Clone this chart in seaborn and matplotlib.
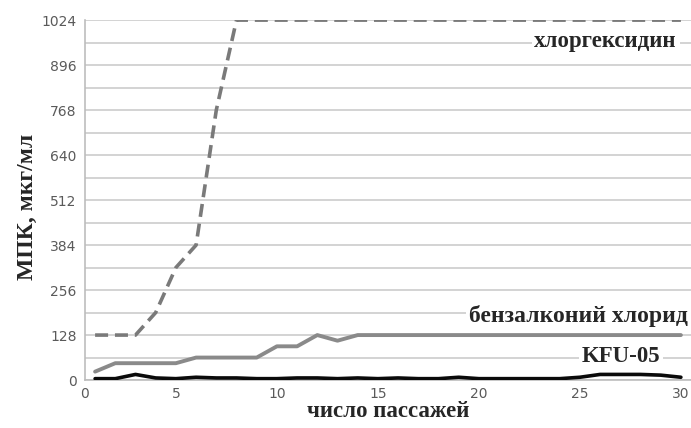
import matplotlib
matplotlib.use("Agg")
import matplotlib.pyplot as plt
import seaborn as sns
import pandas as pd

passages = list(range(1, 31))
chlorhexidine = [128, 128, 128, 192, 320, 384, 768, 1024, 1024, 1024,
                 1024, 1024, 1024, 1024, 1024, 1024, 1024, 1024, 1024, 1024,
                 1024, 1024, 1024, 1024, 1024, 1024, 1024, 1024, 1024, 1024]
benzalkonium = [24, 48, 48, 48, 48, 64, 64, 64, 64, 96,
                96, 128, 112, 128, 128, 128, 128, 128, 128, 128,
                128, 128, 128, 128, 128, 128, 128, 128, 128, 128]
kfu05 = [4, 4, 16, 6, 4, 8, 6, 6, 4, 4,
         6, 6, 4, 6, 4, 6, 4, 4, 8, 4,
         4, 4, 4, 4, 8, 16, 16, 16, 14, 8]
y_ticks = [0, 128, 256, 384, 512, 640, 768, 896, 1024]
x_tick_labels = ["0", "5", "10", "15", "20", "25", "30"]

sns.set_style("white")
fig = plt.figure(figsize=(6.91, 4.28), dpi=100)
ax = fig.add_axes([0.123, 0.112, 0.877, 0.841])

df = pd.DataFrame({"x": passages, "chl": chlorhexidine, "benz": benzalkonium, "kfu": kfu05})

# grid
for v in range(0, 1025, 64):
    ax.axhline(v, color="#c8c8c8", lw=1.1, zorder=0)

sns.lineplot(data=df, x="x", y="benz", ax=ax, color="#8a8a8a", lw=2.8, zorder=3)
sns.lineplot(data=df, x="x", y="kfu", ax=ax, color="#0a0a0a", lw=2.6, zorder=4)
sns.lineplot(data=df, x="x", y="chl", ax=ax, color="#7a7a7a", lw=2.6, zorder=3)
ax.lines[-1].set_dashes([3.6, 1.9])

ax.set_xlim(0.5, 30.5)
ax.set_ylim(0, 1024)
ax.set_yticks(y_ticks)
ax.set_yticklabels([str(v) for v in y_ticks])
ax.set_xticks([0.5, 5, 10, 15, 20, 25, 30])
ax.set_xticklabels(x_tick_labels)
ax.set_xticks([i + 0.5 for i in range(1, 30)], minor=True)
ax.tick_params(axis="x", which="both", length=5, color="#bdbdbd", width=1.2,
               direction="out", labelsize=10, labelcolor="#5a5a5a", pad=5)
ax.tick_params(axis="x", which="major", length=0)
ax.tick_params(axis="y", length=0, labelsize=10, labelcolor="#5a5a5a", pad=6)

for s in ["top", "right"]:
    ax.spines[s].set_visible(False)
ax.spines["left"].set_color("#bdbdbd")
ax.spines["left"].set_linewidth(1.2)
ax.spines["bottom"].set_color("#bdbdbd")
ax.spines["bottom"].set_linewidth(1.2)
ax.spines["bottom"].set_zorder(1)

serif = ["Liberation Serif", "DejaVu Serif"]
ax.set_xlabel("число пассажей", family=serif, fontweight="bold", fontsize=16.5, labelpad=0)
ax.set_ylabel("МПК, мкг/мл", family=serif, fontweight="bold", fontsize=17)
ax.yaxis.set_label_coords(-0.078, 0.48)

bbox = dict(facecolor="white", edgecolor="none", pad=2)
ax.text(29.8, 962, "хлоргексидин", family=serif, fontweight="bold", fontsize=16.5,
        ha="right", va="center", bbox=bbox, zorder=5)
ax.text(30.35, 182, "бензалконий хлорид", family=serif, fontweight="bold", fontsize=17,
        ha="right", va="center", bbox=bbox, zorder=5)
ax.text(29.0, 66, "KFU-05", family=serif, fontweight="bold", fontsize=16.5,
        ha="right", va="center", bbox=bbox, zorder=5)

fig.savefig("out.png", dpi=100)
